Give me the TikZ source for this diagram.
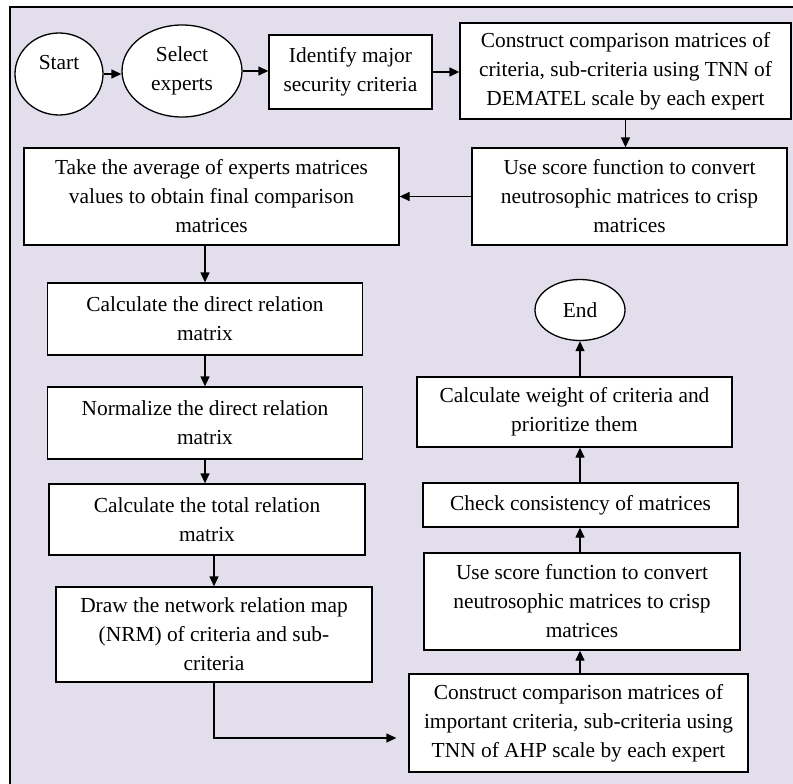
\documentclass[tikz,border=0pt]{standalone}
\usepackage{fontspec}
\setmainfont{Liberation Serif}
\usetikzlibrary{shapes.geometric,arrows.meta,calc}
\definecolor{lavender}{RGB}{226,222,236}

\begin{document}
\begin{tikzpicture}[x=1pt,y=-1pt,font=\fontsize{21.4}{29}\selectfont,
  box/.style={draw,fill=white,line width=1.3pt,align=center,inner sep=2pt},
  oval/.style={draw,fill=white,ellipse,line width=1.3pt,align=center,inner sep=0pt},
  arr/.style={line width=1.3pt,-{Triangle[length=10pt,width=9pt]}}]
\useasboundingbox (0,0) rectangle (793,784);
\fill[lavender] (10,7) rectangle (793,784);
\draw[line width=1.2pt] (10,784) -- (10,7) -- (793,7);
% top row
\node[oval,minimum width=88,minimum height=82] (start) at (59,74) {Start\\[-5pt]\mbox{}};
\node[oval,minimum width=120,minimum height=92] (select) at (182,71) {Select\\experts};
\node[box,minimum width=163,minimum height=74] (ident) at (350.5,72) {Identify major\\security criteria};
\node[box,minimum width=331,minimum height=96] (cdem) at (625.5,71) {Construct comparison matrices of\\criteria, sub-criteria using TNN of\\DEMATEL scale by each expert};
\node[box,minimum width=315,minimum height=97] (score1) at (629.5,196.5) {Use score function to convert\\neutrosophic matrices to crisp\\matrices};
\node[box,minimum width=375,minimum height=97] (avg) at (211.5,196.5) {Take the average of experts matrices\\values to obtain final comparison\\matrices};
% left column
\node[box,minimum width=315,minimum height=72] (direct) at (205,319) {Calculate the direct relation\\matrix};
\node[box,minimum width=315,minimum height=72] (norm) at (205,423) {Normalize the direct relation\\matrix};
\node[box,minimum width=316,minimum height=71] (total) at (207,519.5) {Calculate the total relation\\matrix};
\node[box,minimum width=316,minimum height=95] (nrm) at (214,634.5) {Draw the network relation map\\(NRM) of criteria and sub-\\criteria};
% right column
\node[box,minimum width=339,minimum height=98] (cahp) at (578.5,723) {Construct comparison matrices of\\important criteria, sub-criteria using\\TNN of AHP scale by each expert};
\node[box,minimum width=316,minimum height=97] (score2) at (582,601.5) {Use score function to convert\\neutrosophic matrices to crisp\\matrices};
\node[box,minimum width=315,minimum height=44] (check) at (580.5,505) {Check consistency of matrices};
\node[box,minimum width=315,minimum height=70] (weight) at (574.5,412) {Calculate weight of criteria and\\prioritize them};
\node[oval,minimum width=90,minimum height=61] (finish) at (580,310) {End};
% connectors
\draw[arr] (start.east) -- (start.east -| select.west);
\draw[arr] (select.east) -- (select.east -| ident.west);
\draw[arr] (ident.east) -- (ident.east -| cdem.west);
\draw[arr] (cdem.south) -- (cdem.south |- score1.north);
\draw[arr] (score1.west) -- (score1.west -| avg.east);
\draw[arr] (avg.south -| direct.north) -- (direct.north);
\draw[arr] (direct) -- (norm);
\draw[arr] (norm.south) -- (norm.south |- total.north);
\draw[arr] (total.south -| nrm.north) -- (nrm.north);
\coordinate (ahpin) at ($(cahp.west)+(-12,15)$);
\draw[arr] (nrm.south) |- (ahpin);
\foreach \a/\b in {cahp/score2,score2/check,check/weight,weight/finish}
  \draw[arr] (\a.north -| finish.south) -- (\b.south -| finish.south);
\end{tikzpicture}
\end{document}
